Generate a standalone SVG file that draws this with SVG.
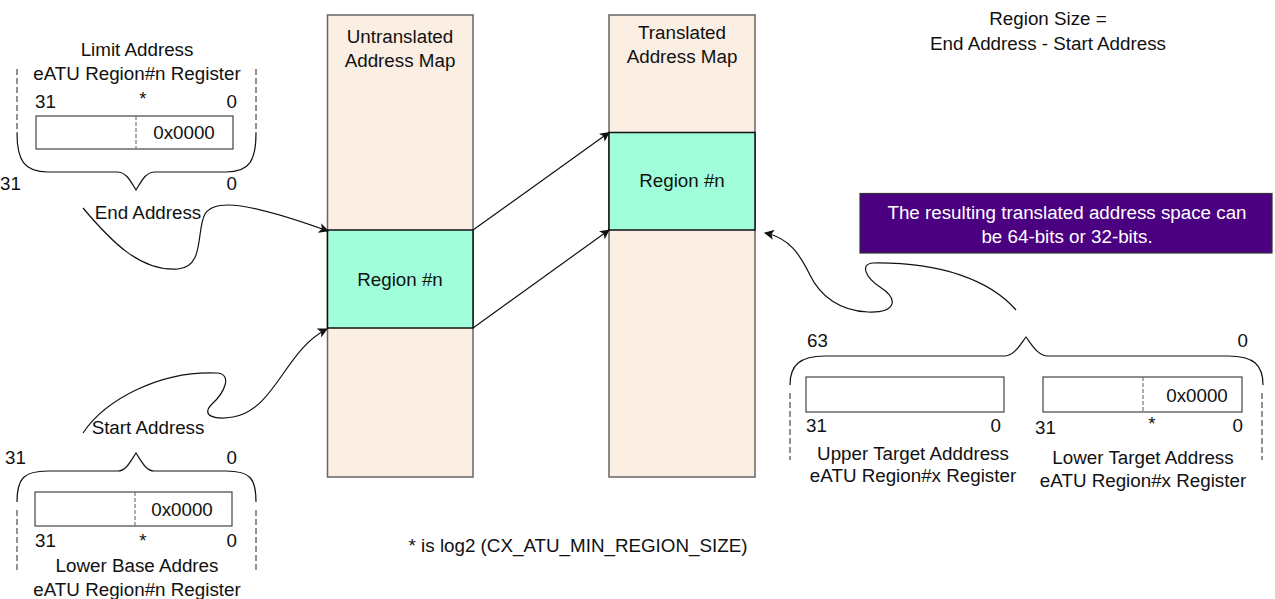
<svg xmlns="http://www.w3.org/2000/svg" width="1275" height="599" viewBox="0 0 1275 599">
<style>
text{font-family:"Liberation Sans",Arial,Helvetica,sans-serif;font-size:18.8px;fill:#111}
.c{text-anchor:middle}
.r{text-anchor:end}
.col{fill:#FBEEE2;stroke:#666;stroke-width:1.5}
.reg{fill:#A0FFDA;stroke:#111;stroke-width:1.5}
.box{fill:#fff;stroke:#444;stroke-width:1.2}
.div{stroke:#777;stroke-width:1.2;stroke-dasharray:4 2;fill:none}
.vd{stroke:#222;stroke-width:1;stroke-dasharray:6 3;fill:none}
.brace{fill:none;stroke:#111;stroke-width:1.2}
.conn{fill:none;stroke:#111;stroke-width:1.2}
</style>
<defs>
<marker id="ah" viewBox="0 0 10 10" refX="9" refY="5" markerWidth="10" markerHeight="10" markerUnits="userSpaceOnUse" orient="auto">
<path d="M0,0 L10,5 L0,10 L2.5,5 Z" fill="#111"/>
</marker>
</defs>

<g id="untranslated-map">
<rect class="col" x="327.5" y="15" width="145.5" height="462"/>
<rect class="reg" x="327.5" y="230" width="145.5" height="98"/>
<text class="c" x="400" y="43">Untranslated</text>
<text class="c" x="400" y="67">Address Map</text>
<text class="c" x="400" y="286">Region #n</text>
</g>

<g id="translated-map">
<rect class="col" x="609" y="15" width="146" height="462"/>
<rect class="reg" x="609" y="132.5" width="146" height="97.5"/>
<text class="c" x="682" y="39">Translated</text>
<text class="c" x="682" y="63">Address Map</text>
<text class="c" x="682" y="187">Region #n</text>
</g>

<g id="region-size-note">
<text class="c" x="1048" y="25">Region Size =</text>
<text class="c" x="1048" y="50">End Address - Start Address</text>
</g>

<g id="translated-space-note">
<rect x="860" y="193.5" width="412" height="59.5" fill="#4B0082" stroke="#333" stroke-width="1.2"/>
<text class="c" x="1067" y="219" style="fill:#fff">The resulting translated address space can</text>
<text class="c" x="1067" y="243" style="fill:#fff">be 64-bits or 32-bits.</text>
</g>

<g id="limit-address-register">
<text class="c" x="137" y="56">Limit Address</text>
<text class="c" x="137" y="80">eATU Region#n Register</text>
<line class="vd" x1="17" y1="69" x2="17" y2="133"/>
<line class="vd" x1="256" y1="69" x2="256" y2="133"/>
<text x="35" y="108">31</text>
<text class="c" x="143" y="105">*</text>
<text class="r" x="237" y="108">0</text>
<rect class="box" x="36" y="116" width="197" height="33"/>
<line class="div" x1="136" y1="116" x2="136" y2="149"/>
<text class="c" x="184" y="139">0x0000</text>
<path class="brace" d="M17,133 C17,160 24,172 48,172 L117,172 C126,172 130,180 136,190 C142,180 146,172 155,172 L226,172 C250,172 256,160 256,133"/>
<text x="0" y="190">31</text>
<text class="r" x="237" y="190">0</text>
<text class="c" x="148" y="219">End Address</text>
</g>

<g id="lower-base-register">
<text class="c" x="148" y="434">Start Address</text>
<text x="5" y="464">31</text>
<text class="r" x="237" y="464">0</text>
<path class="brace" d="M17,502 C17,478 24,471 48,471 L118,471 C126,471 130,462 136,453 C142,462 146,471 154,471 L226,471 C250,471 256,478 256,502"/>
<line class="vd" x1="17" y1="510" x2="17" y2="573"/>
<line class="vd" x1="256" y1="510" x2="256" y2="573"/>
<rect class="box" x="35" y="492" width="197" height="34"/>
<line class="div" x1="135" y1="492" x2="135" y2="526"/>
<text class="c" x="182" y="516">0x0000</text>
<text x="35" y="547">31</text>
<text class="c" x="143" y="547">*</text>
<text class="r" x="237" y="547">0</text>
<text class="c" x="137" y="572">Lower Base Addres</text>
<text class="c" x="137" y="596">eATU Region#n Register</text>
</g>

<g id="target-registers">
<text x="807" y="347">63</text>
<text class="r" x="1248" y="347">0</text>
<path class="brace" d="M790,385 C790,365 800,356 825,356 L1004,356 C1014,356 1020,345 1026,337 C1032,345 1038,356 1048,356 L1228,356 C1254,356 1263,365 1263,385"/>
<line class="vd" x1="790" y1="393" x2="790" y2="460"/>
<line class="vd" x1="1262" y1="393" x2="1262" y2="460"/>
<rect class="box" x="806" y="377" width="198" height="35"/>
<text x="806" y="432">31</text>
<text class="r" x="1001" y="432">0</text>
<text class="c" x="913" y="460">Upper Target Adddress</text>
<text class="c" x="913" y="482">eATU Region#x Register</text>
<rect class="box" x="1043" y="377" width="199" height="35"/>
<line class="div" x1="1143" y1="377" x2="1143" y2="412"/>
<text class="c" x="1197" y="402">0x0000</text>
<text x="1035" y="434">31</text>
<text class="c" x="1152" y="430">*</text>
<text class="r" x="1243" y="432">0</text>
<text class="c" x="1143" y="464">Lower Target Address</text>
<text class="c" x="1143" y="487">eATU Region#x Register</text>
</g>

<g id="footnote">
<text class="c" x="578" y="552">* is log2 (CX_ATU_MIN_REGION_SIZE)</text>
</g>

<g id="connectors">
<path class="conn" marker-end="url(#ah)" d="M473,230 L609,132.5"/>
<path class="conn" marker-end="url(#ah)" d="M473,328 L609,230"/>
<path class="conn" marker-end="url(#ah)" d="M83,208 C110,240 140,272 178,269 C205,267 196,230 205,214 C215,198 250,203 328,231"/>
<path class="conn" marker-end="url(#ah)" d="M83,433 C105,400 160,370 218,373 C232,375 225,392 212,404 C200,416 215,420 233,417 C275,410 285,350 327,329"/>
<path class="conn" marker-end="url(#ah)" d="M1016,310 C990,280 940,262 873,263 C860,264 865,277 880,287 C900,300 895,313 868,312 C840,311 820,296 810,275 C800,255 790,238 765,233"/>
</g>
</svg>
